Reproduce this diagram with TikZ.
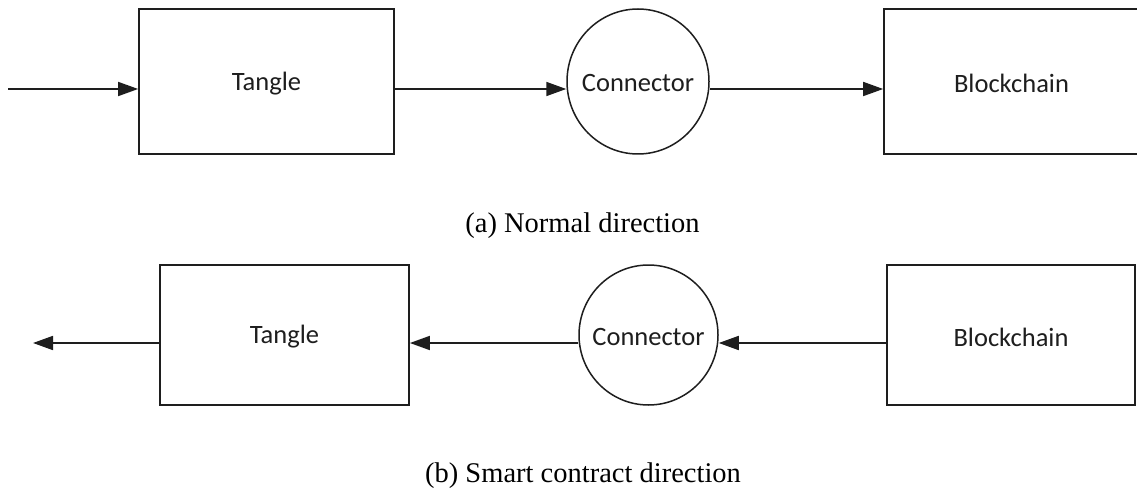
\documentclass[tikz,border=0pt]{standalone}
\usepackage{fontspec}
\setmainfont{Liberation Serif}
\newfontfamily\boxfont{Carlito}
\usetikzlibrary{arrows.meta,shapes.geometric}
\definecolor{ink}{HTML}{1E1E1E}
\begin{document}
\begin{tikzpicture}[x=1pt,y=-1pt,
  blockbox/.style={draw=ink, line width=1.7pt, rectangle, inner sep=0pt},
  connbox/.style={draw=ink, line width=1.5pt, ellipse, inner sep=0pt},
  boxtext/.style={font=\boxfont\fontsize{26.5}{30}\selectfont, text=ink, inner sep=0pt, yshift=-2pt},
  captext/.style={font=\fontsize{28.5}{32}\selectfont, text=black, inner sep=0pt, anchor=base},
  flow/.style={draw=ink, line width=1.7pt, -{Triangle[length=20pt,width=14pt]}}]
\useasboundingbox (0,0) rectangle (1137,489);
\clip (0,0) rectangle (1137,489);
\fill[white] (0,0) rectangle (1137,489);
% (a) normal direction
\node[blockbox, minimum width=255pt, minimum height=145pt] (tA) at (266.5,81.5) {};
\node[boxtext] (tAt) at (tA.center) {Tangle};
\node[connbox, minimum width=142pt, minimum height=145pt] (cA) at (638,81.5) {};
\node[boxtext] (cAt) at (cA.center) {Connector};
\node[blockbox, minimum width=255pt, minimum height=145pt] (bA) at (1011.5,81.5) {};
\node[boxtext] (bAt) at (bA.center) {Blockchain};
\coordinate (inA) at (8,89);
\draw[flow] (inA) -- ([yshift=-7.5pt]tA.west);
\draw[flow] ([yshift=-7.5pt]tA.east) -- ([yshift=-7.5pt]cA.west);
\draw[flow] ([yshift=-7.5pt]cA.east) -- ([yshift=-7.5pt]bA.west);
\node[captext] (capA) at (582.5,232) {(a) Normal direction};
% (b) smart contract direction
\node[blockbox, minimum width=249pt, minimum height=140pt] (tB) at (284.5,335) {};
\node[boxtext] (tBt) at (tB.center) {Tangle};
\node[connbox, minimum width=139pt, minimum height=140pt] (cB) at (648.5,335) {};
\node[boxtext] (cBt) at (cB.center) {Connector};
\node[blockbox, minimum width=248pt, minimum height=140pt] (bB) at (1011,335) {};
\node[boxtext] (bBt) at (bB.center) {Blockchain};
\coordinate (outB) at (33,343);
\draw[flow] ([yshift=-8pt]bB.west) -- ([yshift=-8pt]cB.east);
\draw[flow] ([yshift=-8pt]cB.west) -- ([yshift=-8pt]tB.east);
\draw[flow] ([yshift=-8pt]tB.west) -- (outB);
\node[captext] (capB) at (583,482) {(b) Smart contract direction};
\end{tikzpicture}
\end{document}
